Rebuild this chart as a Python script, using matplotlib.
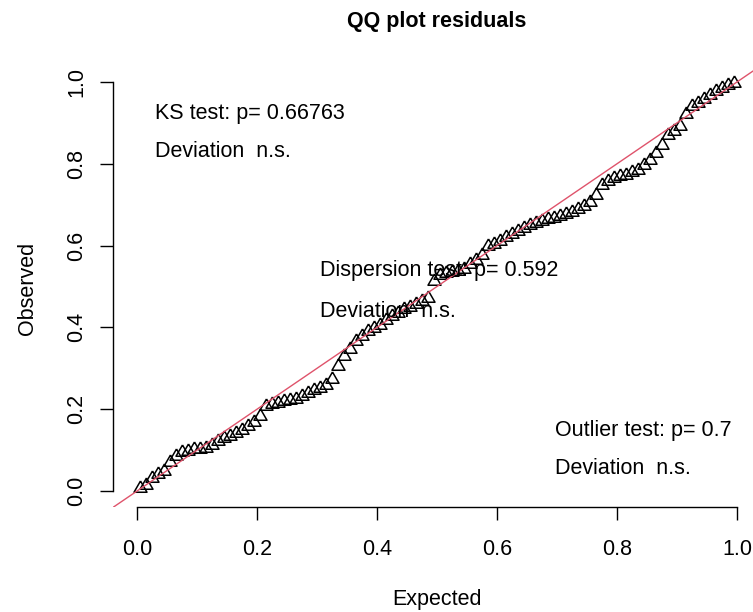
import matplotlib.pyplot as plt
import numpy as np

plt.rcParams['font.family'] = ['Liberation Sans', 'DejaVu Sans']

# sorted scaled residuals (observed quantiles)
observed = [
    0.007, 0.015, 0.031, 0.041, 0.049, 0.071, 0.086, 0.095, 0.099, 0.102,
    0.103, 0.105, 0.112, 0.122, 0.130, 0.135, 0.142, 0.149, 0.158, 0.168,
    0.183, 0.209, 0.212, 0.216, 0.219, 0.222, 0.226, 0.232, 0.240, 0.246,
    0.252, 0.259, 0.275, 0.305, 0.331, 0.346, 0.366, 0.378, 0.392, 0.399,
    0.407, 0.419, 0.427, 0.435, 0.444, 0.451, 0.458, 0.464, 0.473, 0.514,
    0.527, 0.532, 0.536, 0.539, 0.544, 0.554, 0.566, 0.578, 0.598, 0.605,
    0.612, 0.621, 0.628, 0.636, 0.643, 0.651, 0.656, 0.660, 0.664, 0.668,
    0.673, 0.678, 0.683, 0.689, 0.696, 0.706, 0.724, 0.748, 0.759, 0.765,
    0.769, 0.773, 0.779, 0.786, 0.796, 0.810, 0.826, 0.846, 0.871, 0.881,
    0.892, 0.921, 0.941, 0.949, 0.958, 0.967, 0.977, 0.985, 0.992, 0.997,
]
n = len(observed)
# expected uniform quantiles, as in ppoints()
expected = (np.arange(1, n + 1) - 0.5) / n

ks_p = 0.66763
disp_p = 0.592
outlier_p = 0.7

ticks = [0.0, 0.2, 0.4, 0.6, 0.8, 1.0]
fs = 15.5

fig = plt.figure(figsize=(7.53, 6.12), dpi=100)
W, H = 753, 612
# plot region runs past the right edge of the canvas
ax = fig.add_axes([113 / W, 1 - 507.4 / H, 648 / W, 441.8 / H])
ax.set_xlim(-0.04, 1.04)
ax.set_ylim(-0.04, 1.04)

# open equilateral triangles, like pch = 2
tri = [(0, 1), (-0.866, -0.5), (0.866, -0.5), (0, 1)]
ax.plot(expected, observed, linestyle='none', marker=tri, markersize=10.8,
        markerfacecolor='none', markeredgecolor='black', markeredgewidth=1.1)
ax.axline((0, 0), slope=1, color='#DF536B', lw=1.0)

for s in ['top', 'right']:
    ax.spines[s].set_visible(False)
ax.spines['left'].set_bounds(0, 1)
ax.spines['bottom'].set_bounds(0, 1)
ax.spines['left'].set_linewidth(1.0)
ax.spines['bottom'].set_linewidth(1.0)
ax.set_xticks(ticks)
ax.set_yticks(ticks)
ax.set_xticklabels([f'{t:.1f}' for t in ticks], fontsize=fs)
ax.set_yticklabels([f'{t:.1f}' for t in ticks], fontsize=fs, rotation=90, va='center')
ax.tick_params(axis='both', length=9.4, width=1.0, direction='out')
ax.tick_params(axis='x', pad=13)
ax.tick_params(axis='y', pad=9)

fig.text(437 / W, 1 - 600 / H, 'Expected', fontsize=fs, ha='center', va='center')
fig.text(27 / W, 1 - 288 / H, 'Observed', fontsize=fs, ha='center', va='center', rotation=90)
fig.text(437 / W, 1 - 21 / H, 'QQ plot residuals', fontsize=fs, fontweight='bold',
         ha='center', va='center')

# test results
ax.text(0.03, 0.924, f'KS test: p= {ks_p}', fontsize=fs, va='center')
ax.text(0.03, 0.829, 'Deviation  n.s.', fontsize=fs, va='center')
ax.text(0.305, 0.540, f'Dispersion test: p= {disp_p}', fontsize=fs, va='center')
ax.text(0.305, 0.440, 'Deviation  n.s.', fontsize=fs, va='center')
ax.text(0.697, 0.149, f'Outlier test: p= {outlier_p}', fontsize=fs, va='center')
ax.text(0.697, 0.056, 'Deviation  n.s.', fontsize=fs, va='center')

fig.savefig('out.png', dpi=100)
